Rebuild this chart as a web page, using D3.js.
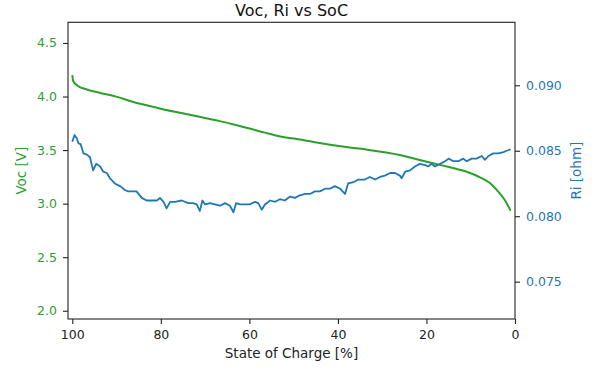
<!DOCTYPE html>
<html>
<head>
<meta charset="utf-8">
<script src="https://cdn.jsdelivr.net/npm/d3@7"></script>
<style>
  body { margin: 0; background: #fff; }
  text { font-family: "DejaVu Sans", sans-serif; }
</style>
</head>
<body>
<svg id="chart" width="600" height="371"></svg>
<script>
// Voc curve (left axis)
const socVoc = [100, 99.8, 98.8, 96.9, 93.9, 90.1, 86.4, 82.6, 78.8, 75.1, 71.3, 67.6, 64.0,
  60.2, 56.5, 52.7, 49.0, 45.2, 41.4, 37.7, 33.9, 26.0, 22.2, 18.5, 14.7, 10.9, 7.9, 5.6, 3.8,
  2.3, 1.0];
const voc = [4.20, 4.145, 4.101, 4.068, 4.036, 3.999, 3.952, 3.912, 3.874, 3.844, 3.812, 3.778,
  3.744, 3.704, 3.663, 3.625, 3.601, 3.573, 3.548, 3.526, 3.507, 3.454, 3.414, 3.377, 3.339,
  3.298, 3.246, 3.190, 3.112, 3.034, 2.934];

// Ri curve (right axis)
const socRi = [100, 99.5, 99.0, 98.6, 98.1, 97.5, 96.7, 96.0, 95.3, 94.6, 93.7, 93.0, 92.2, 91.5,
  90.4, 89.2, 88.1, 87.4, 86.6, 85.5, 84.3, 83.2, 82.1, 80.9, 80.2, 79.4, 78.7, 77.9, 76.8, 75.3,
  73.8, 72.7, 71.9, 71.2, 70.6, 70.0, 68.9, 67.8, 66.6, 65.5, 64.4, 63.6, 63.0, 62.1, 61.0, 59.9,
  58.7, 58.0, 57.2, 56.5, 55.3, 54.2, 53.1, 52.0, 50.8, 49.7, 48.6, 47.4, 46.3, 45.2, 44.1, 42.9,
  41.8, 40.7, 39.5, 38.4, 37.7, 36.5, 35.4, 34.6, 33.9, 32.8, 31.6, 30.5, 29.4, 28.2, 27.1, 26.0,
  25.6, 24.8, 23.7, 22.6, 21.5, 20.3, 19.6, 18.8, 18.1, 16.9, 15.8, 15.0, 13.9, 12.8, 11.7, 10.9,
  9.8, 8.7, 7.5, 6.8, 6.0, 4.9, 3.8, 2.6, 1.9, 1.0];
const ri = [0.08569, 0.0862, 0.08595, 0.08556, 0.0855, 0.0848, 0.0847, 0.0845, 0.0835, 0.0840,
  0.0838, 0.0834, 0.0833, 0.0829, 0.0825, 0.0823, 0.0820, 0.0819, 0.0819, 0.0819, 0.0814, 0.0812,
  0.0812, 0.0812, 0.0814, 0.0811, 0.0806, 0.0811, 0.0811, 0.0812, 0.0810, 0.0810, 0.0809, 0.0804,
  0.0812, 0.0809, 0.0810, 0.0809, 0.0808, 0.0810, 0.0808, 0.0803, 0.0810, 0.0809, 0.0809, 0.0809,
  0.0811, 0.0810, 0.0805, 0.0809, 0.0812, 0.0811, 0.0813, 0.0812, 0.0815, 0.0814, 0.0816, 0.0817,
  0.0817, 0.0819, 0.0819, 0.0821, 0.0821, 0.0823, 0.0821, 0.0817, 0.0825, 0.0826, 0.0828, 0.0828,
  0.0828, 0.0830, 0.0828, 0.0830, 0.0831, 0.0833, 0.0833, 0.0831, 0.0829, 0.0834, 0.0835, 0.0838,
  0.0840, 0.0839, 0.0838, 0.0840, 0.0838, 0.0840, 0.0842, 0.0844, 0.0842, 0.0842, 0.0844, 0.0842,
  0.0844, 0.0844, 0.0846, 0.0843, 0.0846, 0.0848, 0.0848, 0.0849, 0.0850, 0.0851];

const xTicks = [100, 80, 60, 40, 20, 0];
const vTicks = [2.0, 2.5, 3.0, 3.5, 4.0, 4.5];
const rTicks = [0.075, 0.080, 0.085, 0.090];

const green = "#2ca02c";
const blue = "#1f77b4";

const pLeft = 68, pRight = 515, pTop = 22.3, pBottom = 319;

const svg = d3.select("#chart");

const x = d3.scaleLinear().domain([100.97, 0]).range([pLeft, pRight]);
const yV = d3.scaleLinear().domain([1.923, 4.693]).range([pBottom, pTop]);
const yR = d3.scaleLinear().domain([0.07215, 0.09481]).range([pBottom, pTop]);

svg.append("defs").append("clipPath").attr("id", "plotclip")
  .append("rect")
  .attr("x", pLeft).attr("y", pTop)
  .attr("width", pRight - pLeft).attr("height", pBottom - pTop);

// lines
const vocLine = d3.line().x((d, i) => x(socVoc[i])).y(d => yV(d)).curve(d3.curveMonotoneX);
const riLine = d3.line().x((d, i) => x(socRi[i])).y(d => yR(d));

svg.append("path")
  .datum(voc)
  .attr("clip-path", "url(#plotclip)")
  .attr("d", vocLine)
  .attr("fill", "none")
  .attr("stroke", green)
  .attr("stroke-width", 2);

svg.append("path")
  .datum(ri)
  .attr("clip-path", "url(#plotclip)")
  .attr("d", riLine)
  .attr("fill", "none")
  .attr("stroke", blue)
  .attr("stroke-width", 1.8)
  .attr("stroke-linejoin", "round");

// axes
const xAxis = svg.append("g")
  .attr("transform", "translate(0," + pBottom + ")")
  .call(d3.axisBottom(x).tickValues(xTicks).tickSize(5).tickPadding(6).tickFormat(d3.format("d")));

const vAxis = svg.append("g")
  .attr("transform", "translate(" + pLeft + ",0)")
  .call(d3.axisLeft(yV).tickValues(vTicks).tickSize(5).tickPadding(6).tickFormat(d3.format(".1f")));

const rAxis = svg.append("g")
  .attr("transform", "translate(" + pRight + ",0)")
  .call(d3.axisRight(yR).tickValues(rTicks).tickSize(5).tickPadding(6).tickFormat(d3.format(".3f")));

for (const g of [xAxis, vAxis, rAxis]) {
  g.select(".domain").remove();
  g.selectAll("line").attr("stroke", "#222").attr("stroke-width", 1.1);
  g.selectAll("text").style("font-family", "DejaVu Sans").style("font-size", "12.5px");
}
xAxis.selectAll("text").attr("fill", "#222");
vAxis.selectAll("text").attr("fill", green);
rAxis.selectAll("text").attr("fill", blue);

// frame
svg.append("rect")
  .attr("x", pLeft).attr("y", pTop)
  .attr("width", pRight - pLeft).attr("height", pBottom - pTop)
  .attr("fill", "none")
  .attr("stroke", "#222")
  .attr("stroke-width", 1.1);

// labels
svg.append("text")
  .attr("x", (pLeft + pRight) / 2).attr("y", 15.5)
  .attr("text-anchor", "middle")
  .style("font-size", "16px")
  .attr("fill", "#111")
  .text("Voc, Ri vs SoC");

svg.append("text")
  .attr("x", (pLeft + pRight) / 2).attr("y", 358)
  .attr("text-anchor", "middle")
  .style("font-size", "13.5px")
  .attr("fill", "#222")
  .text("State of Charge [%]");

svg.append("text")
  .attr("transform", "translate(26," + ((pTop + pBottom) / 2) + ") rotate(-90)")
  .attr("text-anchor", "middle")
  .style("font-size", "13.5px")
  .attr("fill", green)
  .text("Voc [V]");

svg.append("text")
  .attr("transform", "translate(581," + ((pTop + pBottom) / 2) + ") rotate(-90)")
  .attr("text-anchor", "middle")
  .style("font-size", "13.5px")
  .attr("fill", blue)
  .text("Ri [ohm]");
</script>
</body>
</html>
